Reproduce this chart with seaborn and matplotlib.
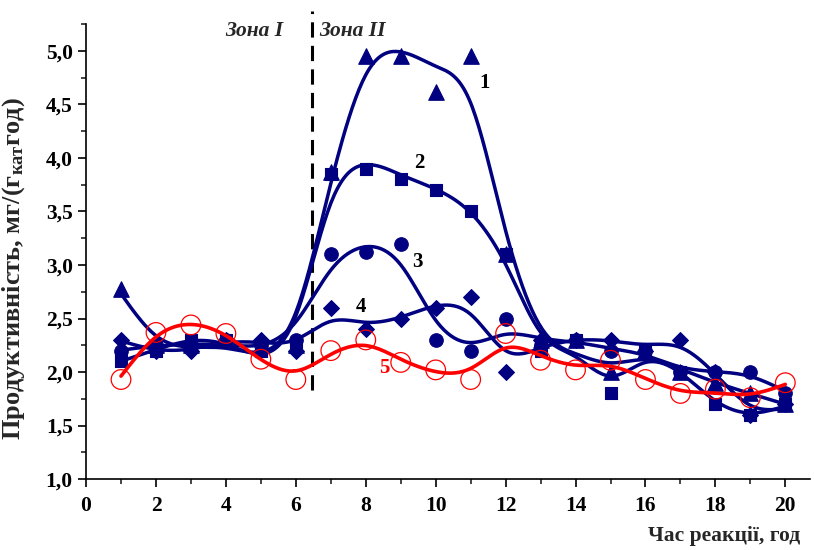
import numpy as np
import pandas as pd
import matplotlib
matplotlib.use("Agg")
import matplotlib.pyplot as plt
from matplotlib.ticker import MultipleLocator, FuncFormatter
import seaborn as sns

hours = list(range(1, 21))
s1 = [2.78, 2.25, 2.25, 2.3, 2.25, 2.25, 3.87, 4.95, 4.95, 4.62, 4.95, 3.1, 2.3, 2.3, 2.0, 2.2, 2.0, 1.9, 1.8, 1.7]
s2 = [2.1, 2.2, 2.3, 2.3, 2.2, 2.25, 3.85, 3.9, 3.8, 3.7, 3.5, 3.1, 2.2, 2.3, 1.8, 2.2, 2.0, 1.7, 1.6, 1.7]
s3 = [2.2, 2.25, 2.25, 2.3, 2.25, 2.3, 3.1, 3.12, 3.2, 2.3, 2.2, 2.5, 2.25, 2.3, 2.2, 2.2, 2.0, 2.0, 2.0, 1.8]
s4 = [2.3, 2.2, 2.2, 2.3, 2.3, 2.2, 2.6, 2.4, 2.5, 2.6, 2.7, 2.0, 2.3, 2.3, 2.3, 2.2, 2.3, 2.0, 1.6, 1.7]
s5 = [1.93, 2.37, 2.44, 2.36, 2.12, 1.93, 2.2, 2.3, 2.09, 2.02, 1.93, 2.36, 2.11, 2.02, 2.11, 1.93, 1.8, 1.84, 1.76, 1.9]
curve_labels = ["1", "2", "3", "4", "5"]
zone_labels = ["Зона I", "Зона II"]
zone_boundary = 6.45
xlabel = "Час реакції, год"
ylabel = "Продуктивність, мг/(г$_{\\mathrm{кат}}$год)"


def smooth_spline(x, y, lam, xs):
    x = np.asarray(x, float); y = np.asarray(y, float)
    n = len(x); h = np.diff(x)
    Q = np.zeros((n, n - 2)); R = np.zeros((n - 2, n - 2))
    for j in range(1, n - 1):
        Q[j - 1, j - 1] = 1 / h[j - 1]
        Q[j, j - 1] = -1 / h[j - 1] - 1 / h[j]
        Q[j + 1, j - 1] = 1 / h[j]
        R[j - 1, j - 1] = (h[j - 1] + h[j]) / 3
        if j < n - 2:
            R[j - 1, j] = R[j, j - 1] = h[j] / 6
    gam = np.linalg.solve(R + lam * Q.T @ Q, Q.T @ y)
    g = y - lam * Q @ gam
    gf = np.concatenate([[0], gam, [0]])
    idx = np.clip(np.searchsorted(x, xs) - 1, 0, n - 2)
    xl, xr = x[idx], x[idx + 1]; hh = xr - xl
    a = xs - xl; b = xr - xs
    f = (b * g[idx] + a * g[idx + 1]) / hh - a * b / 6 * ((1 + a / hh) * gf[idx + 1] + (1 + b / hh) * gf[idx])
    return f


sns.set_theme(style="ticks")
plt.rcParams["font.family"] = ["Liberation Serif", "DejaVu Serif"]
plt.rcParams["font.weight"] = "bold"
plt.rcParams["mathtext.fontset"] = "custom"
plt.rcParams["mathtext.rm"] = "Liberation Serif:bold"
plt.rcParams["mathtext.it"] = "Liberation Serif:bold:italic"
plt.rcParams["mathtext.bf"] = "Liberation Serif:bold"

navy = "#000080"
red = "#FF0000"

fig = plt.figure(figsize=(8.14, 5.5), dpi=100)
ax = fig.add_axes([0.1057, 0.129, 0.89, 0.827])

xs = np.linspace(1, 20, 400)
series = [(s1, "^", 0.12, 125), (s2, "s", 0.08, 75), (s3, "o", 0.15, 95), (s4, "D", 0.1, 65)]
for vals, mk, lam, size in series:
    sm = smooth_spline(hours, vals, lam, xs)
    sns.lineplot(x=xs, y=sm, ax=ax, color=navy, lw=2.5, zorder=3)
    sns.scatterplot(x=hours, y=vals, ax=ax, marker=mk, color=navy, s=size, edgecolor=navy, linewidth=0.8, zorder=4)

sm5 = smooth_spline(hours, s5, 0.1, xs)
sns.scatterplot(x=hours, y=s5, ax=ax, marker="o", s=200, facecolor="none", edgecolor=red, linewidth=0.9, zorder=4)
sns.lineplot(x=xs, y=sm5, ax=ax, color=red, lw=2.6, zorder=5)

ax.plot([zone_boundary, zone_boundary], [1.83, 5.37], ls=(0, (5, 2.7)), color="black", lw=2.2, clip_on=False, zorder=2)

lab_pos = [(11.4, 4.7), (9.53, 3.95), (9.47, 3.03), (7.87, 2.61), (8.53, 2.04)]
for t, (px, py), c in zip(curve_labels, lab_pos, ["black"] * 4 + [red]):
    ax.text(px, py, t, fontsize=15, fontweight="bold", color=c, ha="center", va="center", zorder=6)

ax.text(4.8, 5.19, zone_labels[0], fontsize=15.5, fontweight="bold", style="italic", ha="center", va="center")
ax.text(7.62, 5.19, zone_labels[1], fontsize=15.5, fontweight="bold", style="italic", ha="center", va="center")

ax.set_xlim(0, 20.72)
ax.set_ylim(1.0, 5.25)
ax.xaxis.set_major_locator(MultipleLocator(2))
ax.xaxis.set_minor_locator(MultipleLocator(1))
ax.yaxis.set_major_locator(MultipleLocator(0.5))
ax.yaxis.set_minor_locator(MultipleLocator(0.25))
ax.yaxis.set_major_formatter(FuncFormatter(lambda v, p: f"{v:.1f}".replace(".", ",")))
ax.xaxis.set_major_formatter(FuncFormatter(lambda v, p: f"{int(round(v))}"))
ax.tick_params(which="major", length=6, width=1.2, labelsize=15.5, direction="out", colors="black")
ax.tick_params(axis="x", which="major", pad=6)
ax.tick_params(which="minor", length=3.5, width=1.2, direction="out")
for lbl in ax.get_xticklabels() + ax.get_yticklabels():
    lbl.set_fontweight("bold")
for sp in ["top", "right"]:
    ax.spines[sp].set_visible(False)
for sp in ["left", "bottom"]:
    ax.spines[sp].set_linewidth(1.2)
    ax.spines[sp].set_color("black")

ax.set_ylabel(ylabel, fontsize=19, fontweight="bold")
ax.yaxis.set_label_coords(-0.081, 0.462)
ax.set_xlabel("")
fig.text(0.983, 0.008, xlabel, fontsize=15.5, fontweight="bold", ha="right", va="bottom")

fig.savefig("out.png", dpi=100)
